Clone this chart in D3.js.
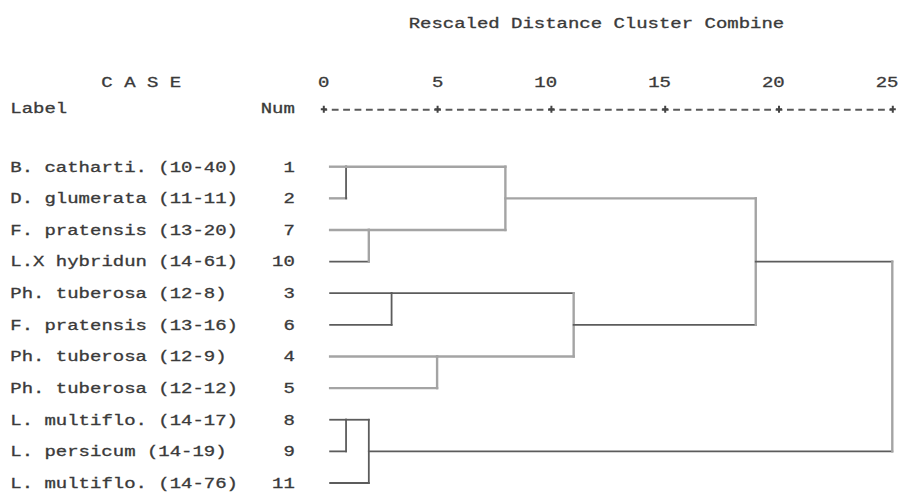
<!DOCTYPE html>
<html>
<head>
<meta charset="utf-8">
<script src="https://cdn.jsdelivr.net/npm/d3@7"></script>
<style>
  html, body { margin: 0; padding: 0; background: #fff; }
  svg { display: block; }
  text {
    font-family: "Liberation Mono", "Courier New", monospace;
    font-size: 14px;
    fill: #3a3a3a;
    stroke: #3a3a3a;
    stroke-width: 0.3px;
  }
</style>
</head>
<body>
<svg id="chart" width="902" height="493"></svg>
<script>
// Cases in dendrogram order
const caseLabels = [
  "B. catharti. (10-40)",
  "D. glumerata (11-11)",
  "F. pratensis (13-20)",
  "L.X hybridun (14-61)",
  "Ph. tuberosa (12-8)",
  "F. pratensis (13-16)",
  "Ph. tuberosa (12-9)",
  "Ph. tuberosa (12-12)",
  "L. multiflo. (14-17)",
  "L. persicum (14-19)",
  "L. multiflo. (14-76)"
];
const caseNums = [1, 2, 7, 10, 3, 6, 4, 5, 8, 9, 11];

// Agglomeration schedule: clusters combined at each stage, rescaled distance
const joinA    = [1, 8, 7,  8, 3, 4, 1,  3,  1,  1];
const joinB    = [2, 9, 10, 11, 6, 5, 7,  4,  3,  8];
const joinDist = [1, 1, 2,  2, 3, 5, 8, 11, 19, 25];

const distTicks = [0, 5, 10, 15, 20, 25];

const titleText = "Rescaled Distance Cluster Combine";
const caseHead = "C A S E";
const labelHead = "Label";
const numHead = "Num";

// ---- layout (character grid of the listing) ----
const PITCH = 11.38;                 // width of one character cell
const COL0 = 10.35;                  // left edge of column 0
const colX = c => COL0 + c * PITCH;
const RULER_Y = 109.3;
const LEAF_START = 0.3;              // leaf stubs begin just right of 0

const svg = d3.select("#chart");

const x = d3.scaleLinear().domain([0, 25]).range([colX(27.5), colX(77.5)]);
const y = d3.scalePoint().domain(d3.range(caseNums.length)).range([166.7, 483]);

// stretch monospace glyphs to the cell pitch
function gridText(sel) {
  sel.attr("textLength", d => String(d).length * PITCH)
     .attr("lengthAdjust", "spacingAndGlyphs");
}

// ---- headings ----
svg.append("text").datum(titleText).attr("x", colX(35)).attr("y", 28).text(d => d).call(gridText);
svg.append("text").datum(caseHead).attr("x", colX(8)).attr("y", 87).text(d => d).call(gridText);
svg.append("text").datum(labelHead).attr("x", colX(0)).attr("y", 113).text(d => d).call(gridText);
svg.append("text").datum(numHead).attr("x", colX(22)).attr("y", 113).text(d => d).call(gridText);

// ---- distance ruler ----
const axis = d3.axisTop(x).tickValues(distTicks).tickSize(0).tickSizeOuter(0).tickPadding(22);
const gAxis = svg.append("g").attr("transform", `translate(0,${RULER_Y})`).call(axis);
gAxis.select(".domain")
  .attr("stroke", "#5a5a5a")
  .attr("stroke-width", 1.9)
  .attr("stroke-dasharray", `6.8 ${PITCH - 6.8}`)
  .attr("stroke-dashoffset", 3.4);
gAxis.selectAll(".tick text")
  .attr("text-anchor", "end")
  .attr("x", PITCH / 2)
  .attr("dy", null)
  .each(function (d) { d3.select(this).datum(String(d)); })
  .call(gridText);
gAxis.selectAll(".tick").append("path")
  .attr("d", "M-3,0H3M0,-3.5V3.5")
  .attr("stroke", "#444")
  .attr("stroke-width", 2);

// ---- case rows ----
const rows = svg.append("g").selectAll("g").data(caseLabels).join("g")
  .attr("transform", (d, i) => `translate(0,${y(i) + 4.8})`);
rows.append("text").attr("x", colX(0)).text(d => d).call(gridText);
rows.append("text")
  .datum((d, i) => String(caseNums[i]))
  .attr("x", colX(25)).attr("text-anchor", "end")
  .text(d => d).call(gridText);

// ---- dendrogram ----
const LIGHT = { stroke: "#a4a4a4", width: 2.4 };
const DARK = { stroke: "#5c5c5c", width: 1.8 };
// segment tones as they print in the listing
const darkSegments = new Set([
  "h:L10", "h:L3", "h:L6", "h:S5", "h:S8", "h:S9",
  "h:L8", "h:L9", "h:L11", "h:S2", "h:S4",
  "v:S1", "v:S5", "v:S2", "v:S4"
]);

// current representation of every cluster: row index, distance, node id
const current = new Map();
caseNums.forEach((n, i) => current.set(n, { row: i, dist: LEAF_START, id: "L" + n }));

const segments = [];
joinDist.forEach((d, s) => {
  const a = current.get(joinA[s]);
  const b = current.get(joinB[s]);
  const id = "S" + (s + 1);
  [a, b].forEach(c => segments.push({
    key: "h:" + c.id, x1: x(c.dist), x2: x(d), y1: y(c.row), y2: y(c.row)
  }));
  segments.push({ key: "v:" + id, x1: x(d), x2: x(d), y1: y(a.row), y2: y(b.row) });
  const merged = { row: Math.floor((a.row + b.row) / 2), dist: d, id };
  current.set(Math.min(joinA[s], joinB[s]), merged);
});

svg.append("g").attr("fill", "none").selectAll("line").data(segments).join("line")
  .attr("x1", d => d.x1).attr("x2", d => d.x2)
  .attr("y1", d => d.y1).attr("y2", d => d.y2)
  .attr("stroke", d => (darkSegments.has(d.key) ? DARK : LIGHT).stroke)
  .attr("stroke-width", d => (darkSegments.has(d.key) ? DARK : LIGHT).width)
  .attr("stroke-linecap", "square");
</script>
</body>
</html>
